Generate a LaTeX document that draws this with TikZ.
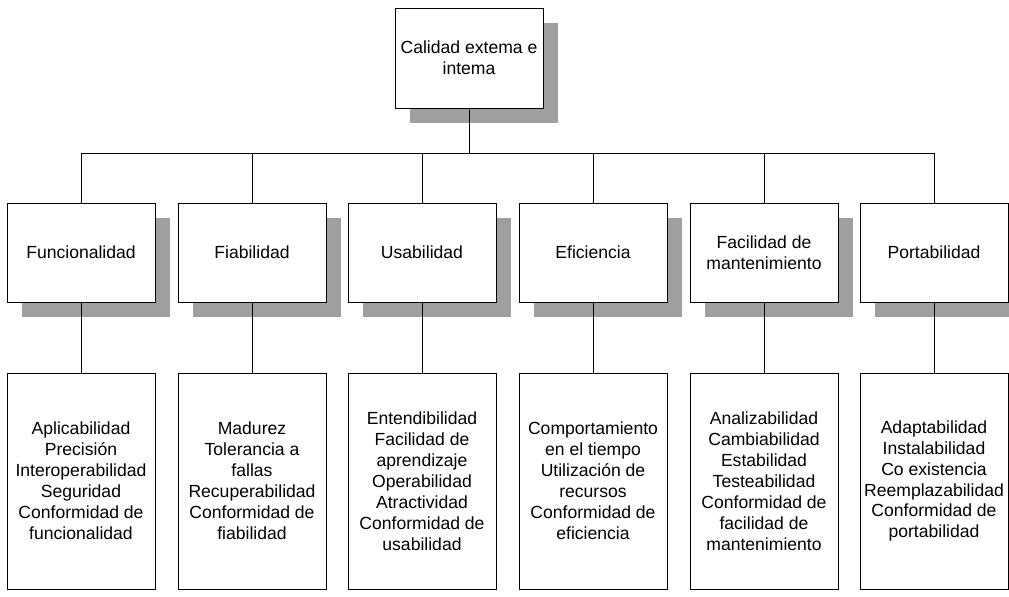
\documentclass[tikz,border=0pt]{standalone}
\usepackage{fontspec}
\setmainfont{Liberation Sans}
\usetikzlibrary{shadows}
\usetikzlibrary{calc}

\begin{document}
\begin{tikzpicture}[
		caja/.style={draw, fill=white, align=center, minimum width=3.7cm, inner sep=2pt, font=\fontsize{12.5}{14.9}\selectfont},
		sombra/.style={drop shadow={shadow xshift=.37cm, shadow yshift=-.37cm, fill=gray!75, opacity=1}},
		caract/.style={caja, sombra, minimum height=2.475cm},
		lista/.style={caja, minimum height=5.4cm}]
		\useasboundingbox (0,0) rectangle (25.225,-14.925);

		%coordinates
		\coordinate (CT) at (11.725,-1.45);
		\coordinate (busL) at (2.025,-3.825);
		\coordinate (busR) at (23.35,-3.825);

		%nodes
		\node[caract, minimum height=2.5cm] (calidad) at (CT) {Calidad extema e\\intema};

		\node[caract] (func) at (2.025,-6.3125) {Funcionalidad};
		\node[caract] (fiab) at (6.3,-6.3125) {Fiabilidad};
		\node[caract] (usab) at (10.55,-6.3125) {Usabilidad};
		\node[caract] (efic) at (14.825,-6.3125) {Eficiencia};
		\node[caract] (mant) at (19.1,-6.3125) {Facilidad de\\mantenimiento};
		\node[caract] (port) at (23.35,-6.3125) {Portabilidad};

		\node[lista] (funcL) at ($(func)+(0,-5.7125)$) {Aplicabilidad\\Precisión\\Interoperabilidad\\Seguridad\\Conformidad de\\funcionalidad};
		\node[lista] (fiabL) at ($(fiab)+(0,-5.7125)$) {Madurez\\Tolerancia a\\fallas\\Recuperabilidad\\Conformidad de\\fiabilidad};
		\node[lista] (usabL) at ($(usab)+(0,-5.7125)$) {Entendibilidad\\Facilidad de\\aprendizaje\\Operabilidad\\Atractividad\\Conformidad de\\usabilidad};
		\node[lista] (eficL) at ($(efic)+(0,-5.7125)$) {Comportamiento\\en el tiempo\\Utilización de\\recursos\\Conformidad de\\eficiencia};
		\node[lista] (mantL) at ($(mant)+(0,-5.7125)$) {Analizabilidad\\Cambiabilidad\\Estabilidad\\Testeabilidad\\Conformidad de\\facilidad de\\mantenimiento};
		\node[lista] (portL) at ($(port)+(0,-5.7125)$) {Adaptabilidad\\Instalabilidad\\Co existencia\\Reemplazabilidad\\Conformidad de\\portabilidad};

		%lines
		\draw (busL) -- (busR);
		\draw (calidad.south) -- (calidad.south |- busL);
		\foreach \c in {func,fiab,usab,efic,mant,port}{
			\draw (\c.north) -- (\c.north |- busL);
			\draw (\c.south) -- (\c L.north);
		}
\end{tikzpicture}
\end{document}
